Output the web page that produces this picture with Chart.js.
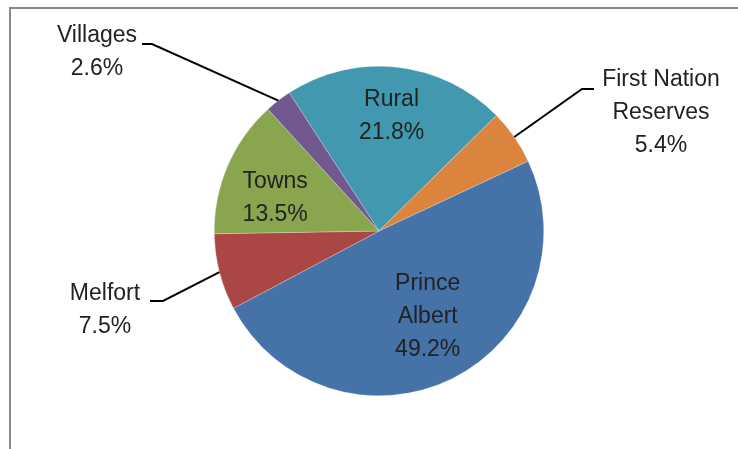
<!DOCTYPE html>
<html>
<head>
<meta charset="utf-8">
<script src="https://cdn.jsdelivr.net/npm/chart.js@4.4.1/dist/chart.umd.min.js"></script>
<style>
  html, body { margin: 0; padding: 0; background: #ffffff; }
  #wrap { width: 738px; height: 449px; position: relative; }
</style>
</head>
<body>
<div id="wrap"><canvas id="c" width="738" height="449"></canvas></div>
<script>
// ---- Data ----
const categories = ["Rural", "First Nation Reserves", "Prince Albert", "Melfort", "Towns", "Villages"];
const shares = [21.8, 5.4, 49.2, 7.5, 13.5, 2.6];
const sliceColors = ["#4198AF", "#DB843D", "#4572A7", "#AA4643", "#89A54E", "#71588F"];
// label lines (text), shown with percentage
const labelLines = [["Rural"], ["First Nation", "Reserves"], ["Prince", "Albert"], ["Melfort"], ["Towns"], ["Villages"]];

// label placement: inside labels use radial fraction + angle tweak (deg);
// outside labels use leader line elbow + text anchor relative to pie center (px)
const labelPlacement = [
  { inside: true, f: 0.70, dA: 0 },
  { inside: false, elbow: [203, -142], end: [215, -142], text: [282, -118] },
  { inside: true, f: 0.60, dA: -3 },
  { inside: false, elbow: [-216, 70], end: [-229, 70], text: [-274, 79] },
  { inside: true, f: 0.66, dA: -6 },
  { inside: false, elbow: [-227, -187], end: [-237, -187], text: [-282, -179] }
];

const FONT = '23px "Liberation Sans", Arial, sans-serif';
const LINE_H = 33;

const framePlugin = {
  id: 'frame',
  beforeDraw(chart) {
    const ctx = chart.ctx;
    ctx.save();
    ctx.fillStyle = '#ffffff';
    ctx.fillRect(0, 0, chart.width, chart.height);
    ctx.strokeStyle = '#8a8a8a';
    ctx.lineWidth = 2;
    ctx.beginPath();
    ctx.moveTo(10, chart.height + 2);
    ctx.lineTo(10, 8);
    ctx.lineTo(chart.width + 2, 8);
    ctx.stroke();
    ctx.restore();
  }
};

const labelPlugin = {
  id: 'pieLabels',
  afterDatasetsDraw(chart) {
    const ctx = chart.ctx;
    const meta = chart.getDatasetMeta(0);
    ctx.save();
    ctx.font = FONT;
    ctx.fillStyle = '#222222';
    ctx.textAlign = 'center';
    ctx.textBaseline = 'middle';
    meta.data.forEach((arc, i) => {
      const p = arc.getProps(['x', 'y', 'startAngle', 'endAngle', 'outerRadius'], true);
      const mid = (p.startAngle + p.endAngle) / 2;
      const pl = labelPlacement[i];
      const lines = labelLines[i].concat([shares[i].toFixed(1) + '%']);
      let cx, cy;
      if (pl.inside) {
        const a = mid + pl.dA * Math.PI / 180;
        cx = p.x + Math.cos(a) * p.outerRadius * pl.f;
        cy = p.y + Math.sin(a) * p.outerRadius * pl.f;
      } else {
        const ex = p.x + Math.cos(mid) * p.outerRadius;
        const ey = p.y + Math.sin(mid) * p.outerRadius;
        ctx.strokeStyle = '#000000';
        ctx.lineWidth = 2;
        ctx.beginPath();
        ctx.moveTo(ex, ey);
        ctx.lineTo(p.x + pl.elbow[0], p.y + pl.elbow[1]);
        ctx.lineTo(p.x + pl.end[0], p.y + pl.end[1]);
        ctx.stroke();
        cx = p.x + pl.text[0];
        cy = p.y + pl.text[1];
      }
      const top = cy - (lines.length - 1) * LINE_H / 2;
      lines.forEach((t, k) => ctx.fillText(t, cx, top + k * LINE_H));
    });
    ctx.restore();
  }
};

new Chart(document.getElementById('c'), {
  type: 'pie',
  data: {
    labels: categories,
    datasets: [{
      data: shares,
      backgroundColor: sliceColors,
      borderColor: 'rgba(255,255,255,0.5)',
      borderWidth: 0.5
    }]
  },
  options: {
    responsive: false,
    animation: false,
    rotation: -33,
    layout: { padding: { top: 66, bottom: 53, left: 214, right: 194 } },
    plugins: {
      legend: { display: false },
      tooltip: { enabled: false }
    }
  },
  plugins: [framePlugin, labelPlugin]
});
</script>
</body>
</html>
